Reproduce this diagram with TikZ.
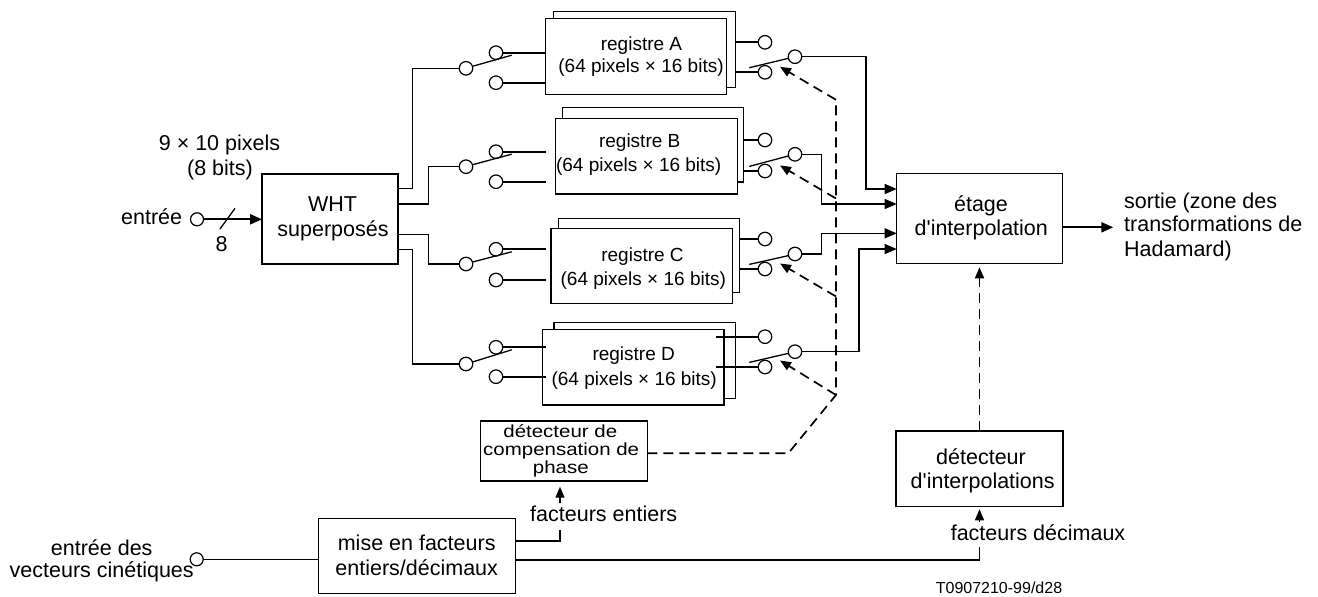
\documentclass[tikz,border=0pt]{standalone}
\usepackage{fontspec}
\setmainfont{Liberation Sans}[Ligatures=TeXOff]
\newfontfamily\phasefont{Liberation Sans}[FakeStretch=1.17,Ligatures=TeXOff]
\usetikzlibrary{arrows.meta,calc}
\newcommand\myfA{\fontsize{21.5}{24}\selectfont}
\newcommand\myfR{\fontsize{19}{22}\selectfont}
\newcommand\myfP{\phasefont\fontsize{17.5}{18}\selectfont}
\newcommand\myfS{\fontsize{16}{18}\selectfont}
\begin{document}
\begin{tikzpicture}[x=1pt,y=-1pt,
  box/.style={draw,line width=1.3pt,fill=white,inner sep=0pt,outer sep=0pt,anchor=north west},
  sw/.style={draw,circle,line width=1.2pt,fill=white,minimum size=13.5pt,inner sep=0pt,outer sep=0pt},
  ln/.style={line width=1.3pt},
  thk/.style={line width=2.2pt},
  dsh/.style={line width=1.7pt,dash pattern=on 10pt off 6pt},
  tip/.style={-{Triangle[length=12pt,width=10pt]}},
  stip/.style={-{Triangle[length=11pt,width=9pt]}},
  t/.style={anchor=base,inner sep=0pt,font=\myfA},
  tr/.style={anchor=base,inner sep=0pt,font=\myfR},
  tp/.style={anchor=base,inner sep=0pt,font=\myfP}]
\useasboundingbox (0,0) rectangle (1318,597);

% boxes
\node[box,minimum width=136pt,minimum height=90pt] (wht) at (262,174) {};
\node[box,minimum width=182.4pt,minimum height=75.6pt] (regAb) at (553.3,11.7) {};
\node[box,minimum width=181pt,minimum height=76pt] (regA) at (545.7,18.3) {};
\node[box,minimum width=180.6pt,minimum height=74.7pt] (regBb) at (562.7,107.3) {};
\node[box,minimum width=181.6pt,minimum height=75.7pt] (regB) at (555.7,118.3) {};
\node[box,minimum width=181pt,minimum height=74.4pt] (regCb) at (558.3,218.3) {};
\node[box,minimum width=181.3pt,minimum height=75pt] (regC) at (551,228.3) {};
\node[box,minimum width=181.3pt,minimum height=76pt] (regDb) at (554,322.3) {};
\node[box,minimum width=181.7pt,minimum height=75.7pt] (regD) at (542.3,329.3) {};
\node[box,minimum width=166pt,minimum height=90pt] (etage) at (896.7,173.3) {};
\node[box,minimum width=166.6pt,minimum height=60pt] (phase) at (480.7,421) {};
\node[box,minimum width=167pt,minimum height=75.7pt] (interp) at (896,431) {};
\node[box,minimum width=197.4pt,minimum height=75pt] (mise) at (318.3,518.3) {};

% texts
\node[t] (t1) at (219.5,150.7) {9 × 10 pixels};
\node[t] (t2) at (220,175) {(8 bits)};
\node[t,anchor=base east] (t3) at (182.3,224.3) {entrée};
\node[t] (t4) at (221.7,251.7) {8};
\node[t] (t5) at (332.5,211) {WHT};
\node[t] (t6) at (333,236) {superposés};
\node[tr] (rA1) at (641.5,50.7) {registre A};
\node[tr] (rA2) at (641,72.3) {(64 pixels × 16 bits)};
\node[tr] (rB1) at (639.7,147.7) {registre B};
\node[tr] (rB2) at (638.7,171) {(64 pixels × 16 bits)};
\node[tr] (rC1) at (642.5,261.7) {registre C};
\node[tr] (rC2) at (643.3,285.7) {(64 pixels × 16 bits)};
\node[tr] (rD1) at (633.7,360.7) {registre D};
\node[tr] (rD2) at (634.2,385) {(64 pixels × 16 bits)};
\node[t] (e1) at (981,211.7) {étage};
\node[t] (e2) at (981.3,235) {d'interpolation};
\node[t,anchor=base west] (s1) at (1124,208.3) {sortie (zone des};
\node[t,anchor=base west] (s2) at (1124,231.7) {transformations de};
\node[t,anchor=base west] (s3) at (1124,256.7) {Hadamard)};
\node[tp] (p1) at (560.3,437.3) {détecteur de};
\node[tp] (p2) at (561.2,455.7) {compensation de};
\node[tp] (p3) at (560.8,473.3) {phase};
\node[t] (fe) at (603.7,521.7) {facteurs entiers};
\node[t] (m1) at (416.7,550.7) {mise en facteurs};
\node[t] (m2) at (416.7,575.7) {entiers/décimaux};
\node[t] (v1) at (101.7,555) {entrée des};
\node[t] (v2) at (101.7,577.3) {vecteurs cinétiques};
\node[t] (i1) at (981,464.3) {détecteur};
\node[t] (i2) at (982.7,488.3) {d'interpolations};
\node[t] (fd) at (1038,540) {facteurs décimaux};
\node[anchor=base,inner sep=0pt,font=\myfS] (tl) at (999,593) {T0907210-99/d28};

% input switches
\foreach \n/\yp/\yu/\yl in {A/68.3/52.7/82.7, B/166.7/151.7/181.7, C/264/249.3/280, D/364/347.3/376.7}{
  \node[sw] (i\n p) at (466,\yp) {};
  \node[sw] (i\n u) at (496,\yu) {};
  \node[sw] (i\n l) at (496,\yl) {};
  \draw[thk] (i\n u.east) -- ++(43.2,0);
  \draw[thk] (i\n l.east) -- ++(43.2,0);
  \draw[ln] (i\n p.17) -- (511.7,\yu+2.5);
}
% output switches
\foreach \n/\yp/\yu/\yl in {A/56.7/42.3/72.3, B/154.3/140/171, C/254/239/269, D/351.7/336.7/367}{
  \node[sw] (o\n p) at (795,\yp) {};
  \node[sw] (o\n u) at (765,\yu) {};
  \node[sw] (o\n l) at (765,\yl) {};
  \draw[ln] (o\n p.194) -- (749.3,\yl-4.6);
}
\draw[thk] (regAb.east |- oAu) -- (oAu.west);
\draw[thk] (regAb.east |- oAl) -- (oAl.west);
\draw[thk] (regBb.east |- oBu) -- (oBu.west);
\draw[thk] (regBb.east |- oBl) -- (oBl.west);
\draw[thk] (regCb.east |- oCu) -- (oCu.west);
\draw[thk] (regCb.east |- oCl) -- (oCl.west);
\draw[thk] (oDu.west) -- ++(-41.8,0);
\draw[thk] (oDl.west) -- ++(-41.8,0);

% WHT to input switches
\draw[ln] (wht.east |- 0,188.3) -- (412.3,188.3) |- (iAp.west);
\draw[ln] (wht.east |- 0,204) -- (428.3,204) |- (iBp.west);
\draw[ln] (wht.east |- 0,234.3) -- (428.3,234.3) |- (iCp.west);
\draw[ln] (wht.east |- 0,249.5) -- (412.3,249.5) |- (iDp.west);

% output switches to etage
\draw[ln,tip] (oAp.east) -| (866,189) -- (etage.west |- 0,189);
\draw[ln,tip] (oBp.east) -| (821.7,204) -- (etage.west |- 0,204);
\draw[ln,tip] (oCp.east) -| (821.7,233.3) -- (etage.west |- 0,233.3);
\draw[ln,tip] (oDp.east) -| (859,249) -- (etage.west |- 0,249);

% input
\node[sw,minimum size=13pt] (ce) at (197,219.3) {};
\draw[thk,tip] (ce.east) -- (wht.west |- ce);
\draw[ln] (220,229) -- (235,208.3);
% output
\draw[thk,tip] (etage.east |- 0,227.3) -- (1113.3,227.3);

% dashed control
\draw[dsh] (phase.east |- 0,453.3) -- (788.3,453.3) -- (836,395) -- (836,100);
\draw[dsh,stip] (836,99.8) -- ($(oAl)+(15,-5.5)$);
\draw[dsh,stip] (836,198.5) -- ($(oBl)+(15,-5.5)$);
\draw[dsh,stip] (836,296.5) -- ($(oCl)+(15,-5.5)$);
\draw[dsh,stip] (836,395) -- ($(oDl)+(15,-6.5)$);
\draw[dsh,stip,shorten >=4pt] (interp.north) -- (etage.south -| interp.north);

% bottom
\node[sw,minimum size=13pt] (cv) at (196.7,559.3) {};
\draw[ln] (cv.east) -- (mise.west |- cv);
\draw[ln] (mise.east |- 0,541) -| (560,530);
\coordinate (fet) at (560,503);
\draw[ln,stip,shorten >=5.7pt] (fet) -- (phase.south -| fet);
\draw[ln] (mise.east |- 0,560) -| (979.5,546.7);
\coordinate (fdt) at (979.5,522);
\draw[ln,stip,shorten >=2.6pt] (fdt) -- (interp.south -| fdt);
\end{tikzpicture}
\end{document}
